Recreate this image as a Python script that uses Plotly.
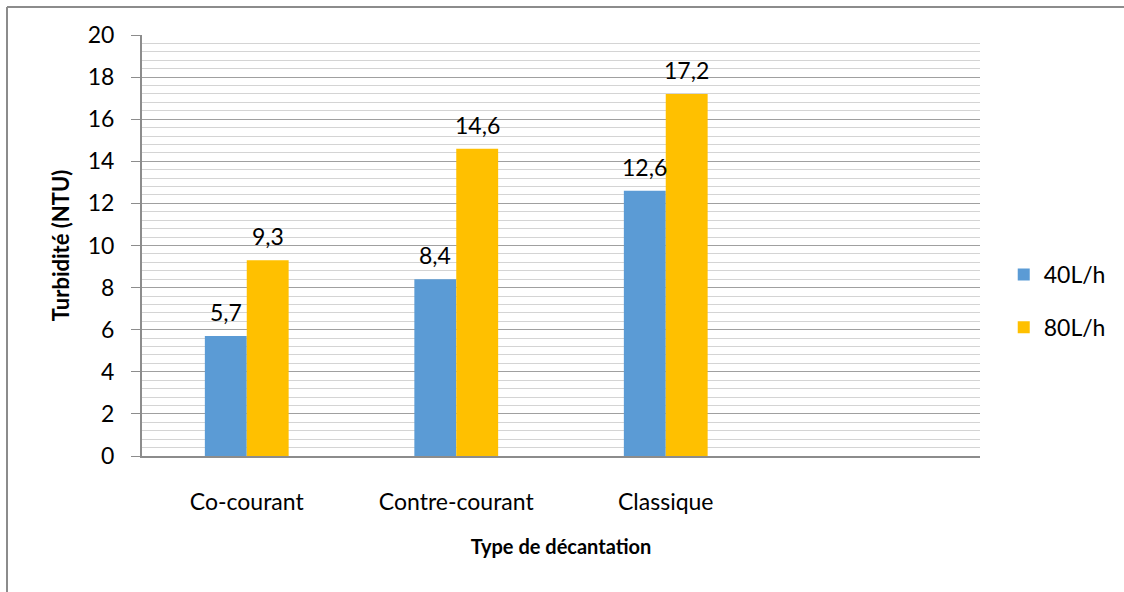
import plotly.graph_objects as go

categories = ["Co-courant", "Contre-courant", "Classique"]
debit_40 = [5.7, 8.4, 12.6]
debit_80 = [9.3, 14.6, 17.2]
series_names = ["40L/h", "80L/h"]
colors = ["#5B9BD5", "#FFC000"]
y_ticks = [0, 2, 4, 6, 8, 10, 12, 14, 16, 18, 20]

FONT = "Lato, Carlito, Calibri, sans-serif"
TXT = 23

fig = go.Figure()
for i, (name, vals) in enumerate(zip(series_names, [debit_40, debit_80])):
    fig.add_trace(go.Bar(
        x=list(range(len(categories))), y=vals, name=name,
        marker=dict(color=colors[i], line=dict(width=0)),
        offsetgroup=str(i), legendgroup=str(i),
    ))

# value labels above each bar, with a comma as decimal separator
annotations = []
for i, vals in enumerate([debit_40, debit_80]):
    for j, v in enumerate(vals):
        annotations.append(dict(
            x=j, y=v, xref="x", yref="y", text=f"{v:.1f}".replace(".", ","),
            showarrow=False, yshift=24, xshift=(-21 if i == 0 else 21),
            font=dict(family=FONT, size=TXT, color="#000000"),
        ))

# outer chart frame
shapes = [
    dict(type="line", xref="paper", yref="paper", x0=-0.1611, x1=1.2, y0=1.0665, y1=1.0665,
         line=dict(color="#8c8c8c", width=2)),
    dict(type="line", xref="paper", yref="paper", x0=-0.1611, x1=-0.1611, y0=1.0665, y1=-0.4,
         line=dict(color="#8c8c8c", width=2)),
]

fig.update_layout(
    width=1124, height=592,
    margin=dict(l=142, r=144, t=35, b=136, autoexpand=False),
    paper_bgcolor="white", plot_bgcolor="white",
    separators=", ",
    barmode="group", bargap=0.6, bargroupgap=0,
    font=dict(family=FONT, size=TXT, color="#000000"),
    showlegend=True,
    legend=dict(xref="container", yref="container", x=0.893, y=0.4916,
                xanchor="left", yanchor="middle",
                font=dict(family=FONT, size=TXT), tracegroupgap=20,
                itemwidth=30, bgcolor="rgba(0,0,0,0)"),
    annotations=annotations,
    shapes=shapes,
    xaxis=dict(
        tickmode="array", tickvals=list(range(len(categories))), ticktext=categories,
        range=[-0.5, 3.5], showgrid=False, zeroline=False,
        showline=True, linecolor="#8c8c8c", linewidth=2,
        ticks="", ticklabelstandoff=24,
        tickfont=dict(family=FONT, size=TXT),
        title=dict(text="<b>Type de décantation</b>", standoff=26,
                   font=dict(family=FONT, size=20)),
    ),
    yaxis=dict(
        range=[0, 20], tickmode="array", tickvals=y_ticks,
        showgrid=True, gridcolor="#a0a0a0", gridwidth=1,
        minor=dict(dtick=0.4, showgrid=True, gridcolor="#d4d4d4", gridwidth=1),
        zeroline=False, showline=True, linecolor="#8c8c8c", linewidth=2,
        ticks="outside", ticklen=9, tickcolor="#8c8c8c", tickwidth=1,
        ticklabelstandoff=12,
        tickfont=dict(family=FONT, size=TXT),
        title=dict(text="<b>Turbidité (NTU)</b>", standoff=12,
                   font=dict(family=FONT, size=22)),
    ),
)

fig.write_html("out.html")
